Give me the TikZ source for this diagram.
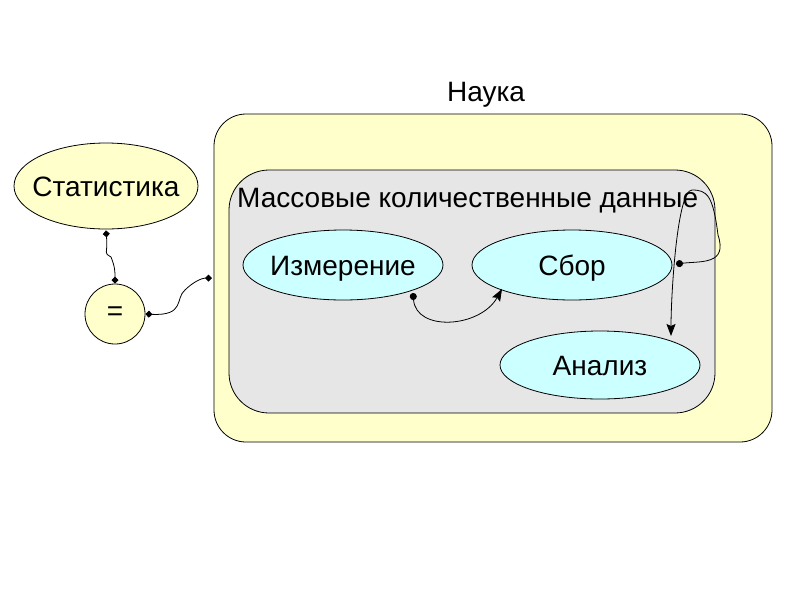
\documentclass[tikz,border=0pt]{standalone}
\usepackage{fontspec}
\setmainfont{Liberation Sans}
\usetikzlibrary{shapes.geometric,arrows.meta}
\definecolor{yel}{HTML}{FFFFCC}
\definecolor{gry}{HTML}{E6E6E6}
\definecolor{cyn}{HTML}{CCFFFF}
\tikzset{
  lbl/.style={font=\fontsize{28}{32}\selectfont, inner sep=0pt},
  blbl/.style={lbl, anchor=base},
  shp/.style={ellipse, draw, line width=0.8pt, inner sep=0pt},
  yellipse/.style={shp, fill=yel},
  cellipse/.style={shp, fill=cyn, minimum width=200pt, minimum height=70pt},
  conn/.style={line width=0.8pt},
  dia/.tip={Diamond[length=7pt,width=7pt]},
  dot/.tip={Circle[length=7pt]},
  arr/.tip={Stealth[length=12pt,width=9pt,inset=2pt]},
}
\begin{document}
\begin{tikzpicture}[x=1pt,y=-1pt]
\useasboundingbox (0,0) rectangle (800,600);
\fill[white] (0,0) rectangle (800,600);
\draw[fill=yel, line width=0.8pt, rounded corners=32pt] (214,114) rectangle (772,442);
\node[blbl] (nauka) at (486,101) {Наука};
\draw[fill=gry, line width=0.8pt, rounded corners=40pt] (229,170) rectangle (715,413);
\node[lbl, anchor=base west] (mass) at (237,207) {Массовые количественные данные};
\node[yellipse, minimum width=184pt, minimum height=86pt] (stat) at (106,186) {};
\node[blbl] (statt) at ([yshift=-10pt]stat.center) {Статистика};
\node[circle, draw, fill=yel, line width=0.8pt, minimum size=60pt, inner sep=0pt] (eq) at (115,314) {};
\node[lbl] (eqt) at (eq.center) {=};
\node[cellipse] (izm) at (343,265) {};
\node[blbl] (izmt) at ([yshift=-10pt]izm.center) {Измерение};
\node[cellipse] (sbor) at (572,265) {};
\node[blbl] (sbort) at ([yshift=-10pt]sbor.center) {Сбор};
\node[cellipse, minimum height=68pt] (anal) at (600,365) {};
\node[blbl] (analt) at ([yshift=-10pt]anal.center) {Анализ};
\coordinate (lft) at (212,278);
\draw[conn, {dia}-{dia}] (stat.south) ++(0,1) .. controls +(2,25) and +(-8,-5) .. (111,257) .. controls +(4,10) and +(0,-12) .. (eq.north);
\draw[conn, {dia}-{dia}] (eq.east) .. controls +(40,2) and +(-10,8) .. (185,290) .. controls +(8,-8) and +(-10,0) .. (lft);
\draw[conn, {dot}-{arr}] (413,293) .. controls (416,332) and (480,328) .. (502,289);
\draw[conn, {dot}-{arr}] (676,264) .. controls +(25,-3) and +(10,30) .. (718,235) .. controls +(-5,-40) and +(15,0) .. (692,190) .. controls +(-15,0) and +(0,-40) .. (671,336);
\end{tikzpicture}
\end{document}
